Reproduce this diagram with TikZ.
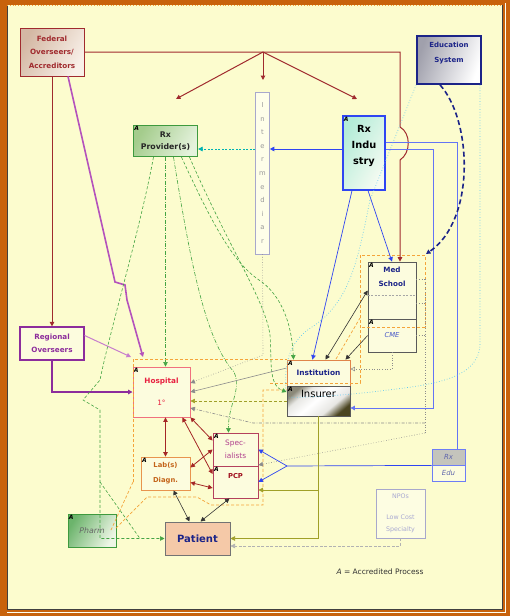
\documentclass[tikz,border=0pt]{standalone}
\usepackage{fontspec}
\setmainfont{DejaVu Sans}
\usepackage{tikz}
\usetikzlibrary{arrows.meta, calc}

\definecolor{framebrown}{HTML}{C8620C}
\definecolor{paper}{HTML}{FCFCCE}
\definecolor{boxfill}{HTML}{FCFCDE}
\definecolor{fedred}{HTML}{A02A2E}
\definecolor{fedtan}{HTML}{D4B8A4}
\definecolor{fedlight}{HTML}{F8F0E8}
\definecolor{navy}{HTML}{1C2488}
\definecolor{edugray}{HTML}{A0A0AC}
\definecolor{provgreen}{HTML}{3E9A3E}
\definecolor{provdark}{HTML}{A4CC8C}
\definecolor{provlight}{HTML}{E4F2DC}
\definecolor{indblue}{HTML}{2F45F2}
\definecolor{indcyan}{HTML}{B4ECD8}
\definecolor{indlight}{HTML}{F6FBF2}
\definecolor{lilac}{HTML}{A8A8CC}
\definecolor{medgray}{HTML}{5A5A5A}
\definecolor{cmeblue}{HTML}{4656C8}
\definecolor{instorange}{HTML}{E0844A}
\definecolor{insdark}{HTML}{4A4420}
\definecolor{insgray}{HTML}{8A8878}
\definecolor{regpurple}{HTML}{8C2C9C}
\definecolor{magline}{HTML}{B452BC}
\definecolor{hosppink}{HTML}{F0707E}
\definecolor{hospred}{HTML}{E82040}
\definecolor{laborange}{HTML}{E8944E}
\definecolor{labtext}{HTML}{C4641A}
\definecolor{specrose}{HTML}{B4405E}
\definecolor{spectext}{HTML}{B0408E}
\definecolor{pcptext}{HTML}{A0101E}
\definecolor{pharmdark}{HTML}{6CB46C}
\definecolor{pharmlight}{HTML}{EEF6E6}
\definecolor{patpeach}{HTML}{F5C9A8}
\definecolor{rxedugray}{HTML}{C4C4BC}
\definecolor{npotext}{HTML}{A8A8D2}
\definecolor{olivel}{HTML}{A0A028}
\definecolor{halo}{HTML}{F4A43A}
\definecolor{cyanl}{HTML}{5EC8F2}
\definecolor{grayl}{HTML}{8C8C8C}
\definecolor{rxgreen}{HTML}{44A444}
\definecolor{reddbl}{HTML}{A42626}

\pgfdeclareverticalshading{insshade}{100bp}{color(0bp)=(insdark); color(25bp)=(insdark);
  color(36bp)=(white!80!insgray); color(52bp)=(white); color(66bp)=(white!80!insgray);
  color(75bp)=(insgray); color(100bp)=(insgray)}

\newcommand{\fsz}[2]{\fontsize{#1}{#2}\selectfont}
\newcommand{\accmark}[1]{\node[acctag] (#1-a) at (#1.north west) {A};}

\begin{document}
\begin{tikzpicture}[x=1pt, y=-1pt,
  every node/.style={font=\fsz{7}{13}},
  box/.style={rectangle, draw=#1, line width=0.8pt, align=center, inner sep=1pt},
  acctag/.style={anchor=north west, inner sep=1.2pt, text=black, font=\fsz{6}{6}\bfseries\itshape},
  arrtip/.style={-{Triangle[length=4.5pt, width=4.5pt]}},
  dblarr/.style={{Triangle[length=4.5pt, width=4.5pt]}-{Triangle[length=4.5pt, width=4.5pt]}},
  fedline/.style={draw=fedred, line width=1pt, arrtip},
  magarr/.style={draw=magline, line width=1.6pt, arrtip},
  regarr/.style={draw=regpurple, line width=1.3pt, arrtip},
  regthin/.style={draw=magline!75, line width=1pt, arrtip},
  grn/.style={draw=rxgreen, line width=0.6pt, dash pattern=on 3pt off 2pt, arrtip},
  grndd/.style={grn, dash pattern=on 4pt off 1.5pt on 0.8pt off 1.5pt},
  bluearr/.style={draw=indblue, line width=0.7pt, arrtip},
  tealdash/.style={draw=teal!60!cyan, line width=0.6pt, dash pattern=on 2pt off 1.5pt, arrtip},
  graydot/.style={draw=grayl, line width=0.6pt, dotted},
  graydd/.style={draw=grayl, line width=0.6pt, dash pattern=on 3pt off 1.5pt on 0.8pt off 1.5pt},
  graysol/.style={draw=grayl, line width=0.6pt},
  oliveline/.style={draw=olivel, line width=0.7pt},
  cyandot/.style={draw=cyanl, line width=0.7pt, dotted},
  haloline/.style={draw=halo, line width=0.7pt, dash pattern=on 3pt off 2pt},
  redpair/.style={draw=reddbl, line width=0.8pt, dblarr},
  blkpair/.style={draw=black!80, line width=0.6pt, dblarr}
]
\useasboundingbox (0,0) rectangle (510,616);
% frame and paper
\fill[framebrown] (0,0) rectangle (510,616);
\fill[paper] (7,5) rectangle (502,609);
\draw[white!70!paper, line width=0.8pt] (7,612) -- (505,612) -- (505,3);
\draw[black!75, line width=0.8pt] (7,5) -- (7,609) -- (502,609) -- (502,5);
\draw[halo, dotted, line width=0.8pt] (7,5) -- (502,5);

% boxes
\node[box=fedred, minimum width=64pt, minimum height=48pt, left color=fedtan, right color=fedlight, shading angle=60,
  text=fedred, font=\fsz{7.2}{13.5}\bfseries] (fed) at (52,52) {Federal\\Overseers/\\Accreditors};
\node[box=navy, line width=1.8pt, minimum width=64pt, minimum height=48pt, left color=edugray, right color=white, shading angle=70,
  text=navy, font=\fsz{7}{15}\bfseries] (edu) at (449,60) {Education\\System\\{}};
\node[box=provgreen, line width=1.2pt, minimum width=64pt, minimum height=31pt, left color=provdark, right color=provlight, shading angle=60,
  text=black!85, font=\fsz{7.8}{12}\bfseries] (rxprov) at (165.5,141) {Rx\\Provider(s)};
\node[box=lilac, line width=0.6pt, fill=white!55!paper, minimum width=14pt, minimum height=162pt,
  text=black!40, font=\fsz{6.8}{13.6}] (inter) at (262.5,173) {I\\n\\t\\e\\r\\m\\e\\d\\i\\a\\r};
\node[box=indblue, line width=1.2pt, minimum width=42pt, minimum height=74pt, left color=indcyan, right color=indlight, shading angle=60,
  text=black, font=\fsz{9.8}{16}\bfseries] (rxind) at (364,153) {Rx\\Indu\\stry\\{}};
\node[box=medgray, line width=0.7pt, fill=boxfill, minimum width=48pt, minimum height=57pt,
  text=navy, font=\fsz{7.2}{14}\bfseries] (med) at (392,290.5) {Med\\School\\[14pt]{}};
\node[box=medgray, line width=0.7pt, fill=boxfill, minimum width=48pt, minimum height=33pt,
  text=cmeblue, font=\fsz{6.8}{12}\itshape] (cme) at (392,335.5) {CME};
\node[box=instorange, line width=0.8pt, fill=boxfill, minimum width=63pt, minimum height=26pt,
  text=navy, font=\fsz{7.4}{12}\bfseries] (inst) at (318.5,373) {Institution};
\node[box=medgray, line width=0.8pt, shading=insshade, shading angle=40,
  minimum width=63pt, minimum height=30pt, text=black, font=\fsz{10}{12}] (insr) at (318.5,401) {Insurer\\[3pt]{}};
\node[box=regpurple, line width=1.2pt, fill=boxfill, minimum width=64pt, minimum height=33pt,
  text=regpurple, font=\fsz{7.2}{13}\bfseries] (reg) at (52,343.5) {Regional\\Overseers};
\node[box=hosppink, line width=0.9pt, fill=boxfill, minimum width=57pt, minimum height=50pt,
  text=hospred, font=\fsz{7.3}{13}] (hosp) at (161.5,392) {\textbf{Hospital}\\[9pt]1°};
\node[box=laborange, line width=0.8pt, fill=boxfill, minimum width=49pt, minimum height=33pt,
  text=labtext, font=\fsz{6.8}{15}\bfseries] (lab) at (165.5,473.5) {Lab(s)\\Diagn.};
\node[box=specrose, line width=0.8pt, fill=boxfill, minimum width=45pt, minimum height=33pt,
  text=spectext, font=\fsz{7.4}{13}] (spec) at (235.5,449.5) {Spec-\\ialists};
\node[box=specrose, line width=0.8pt, fill=boxfill, minimum width=45pt, minimum height=32pt,
  text=pcptext, font=\fsz{6.8}{13}\bfseries] (pcp) at (235.5,482) {PCP\\{}};
\node[box=provgreen, line width=0.9pt, left color=pharmdark, right color=pharmlight, shading angle=60, minimum width=48pt, minimum height=33pt,
  text=black!60, font=\fsz{7.8}{12}\itshape] (pharm) at (92,530.5) {Pharm};
\node[box=black!55, line width=1pt, fill=patpeach, minimum width=65pt, minimum height=33pt,
  text=navy, font=\fsz{10}{12}\bfseries] (pat) at (197.5,538.5) {Patient};
\node[box=indblue!70, line width=0.8pt, fill=rxedugray, minimum width=33pt, minimum height=16pt,
  text=navy!70, font=\fsz{7}{10}\itshape] (rxedu) at (448.5,457) {Rx};
\node[box=indblue!70, line width=0.8pt, fill=boxfill, minimum width=33pt, minimum height=16pt,
  text=navy!70, font=\fsz{7}{10}\itshape] (edub) at (448.5,473) {Edu};
\node[box=lilac, line width=0.8pt, fill=white!40!paper, minimum width=49pt, minimum height=49pt,
  text=npotext, font=\fsz{6.3}{12}] (npo) at (400.5,513.5) {NPOs\\[9pt]Low Cost\\Specialty};
\node[text=black!80, font=\fsz{7.5}{10}] (legend) at (380,572) {\textit{A} = Accredited Process};

\draw[gray!70, line width=0.5pt, dash pattern=on 2pt off 1.5pt] ([yshift=-4.5pt]med.west) -- ([yshift=-4.5pt]med.east);

\accmark{rxprov} \accmark{rxind} \accmark{med} \accmark{cme} \accmark{inst} \accmark{insr}
\accmark{hosp} \accmark{lab} \accmark{spec} \accmark{pcp} \accmark{pharm}

% accreditation halos
\draw[haloline] (133,482) -- (133,359) -- (287,359);
\draw[haloline] (133,482) -- (111,530);
\draw[haloline] (116,528) -- (147,497) -- (197,497) -- (211,505) -- (263,505) -- (263,390) -- (287,390);
\draw[haloline] (270,383) -- (360,383) -- (360,255) -- (425,255) -- (425,327) -- (360,327);
\draw[haloline] (336,359) -- (360,318);

% federal and regional oversight
\coordinate (fedc) at (400,52);
\coordinate (fedhub) at (263,52);
\coordinate (fedtipL) at (176,99);
\coordinate (fedtipM) at (263,80);
\coordinate (fedtipR) at (357,99);
\draw[fedline] (fed.east) -- (fedc) -- (400,127) .. controls (411,133) and (411,153) .. (400,160) -- (fedc |- med.north);
\draw[fedline] (fedhub) -- (fedtipL);
\draw[fedline] (fedhub) -- (fedtipM);
\draw[fedline] (fedhub) -- (fedtipR);
\draw[fedline] (fed.south) -- (reg.north);
\coordinate (magtip) at (143,357);
\draw[magarr] ([xshift=16pt]fed.south) -- (115,282) -- (125,285) -- (127,300) -- (magtip);
\coordinate (regtip) at (131,357);
\draw[regthin] ([yshift=8pt]reg.east) -- (regtip);
\draw[regarr] (reg.south) |- (hosp.west);

% Rx providers
\draw[grn] ([xshift=-12pt]rxprov.south) .. controls (140,230) and (110,330) .. (100,380) -- (83,400) -- (100,410) |- (pat.west);
\coordinate (gsplit) at (100,482);
\draw[grn, -] (gsplit) -- (140,538.5);
\draw[grndd] (rxprov.south) -- (rxprov.south |- hosp.north);
\draw[grndd] ([xshift=8pt]rxprov.south) .. controls (190,260) and (205,340) .. (234,372) .. controls (242,390) and (228,405) .. ([xshift=-7pt]spec.north);
\draw[grn] ([xshift=16pt]rxprov.south) .. controls (215,230) and (235,265) .. (262,282) .. controls (285,300) and (292,330) .. ([xshift=-25pt]inst.north);
\draw[grn] ([xshift=24pt]rxprov.south) .. controls (230,250) and (265,300) .. (270,335) .. controls (272,360) and (268,385) .. ([yshift=9pt]insr.west);

% intermediary
\draw[bluearr] ([yshift=4pt]rxind.west) -- ([yshift=4pt]rxind.west -| inter.east);
\draw[tealdash] ([yshift=24pt]inter.west) -- ([yshift=24pt]inter.west -| rxprov.east);
\draw[graydot, arrtip] (inter.south) -- (263,355) -- ([yshift=9pt]hosp.east);
\draw[graysol, arrtip] ([yshift=5pt]inst.west) -- (hosp.east);
\draw[oliveline, dash pattern=on 3pt off 2pt, arrtip] (insr.west) -- (insr.west -| hosp.east);

% medical school and CME
\coordinate (gvtop) at (425,279);
\coordinate (gvmid) at (425,423);
\coordinate (gvbot) at (425,433);
\draw[graydot] ([yshift=11.5pt]med.east) -- (gvtop);
\draw[graydot] ([yshift=-12.5pt]med.east) -- +(9,0);
\draw[graydot] (cme.east) -- +(9,0);
\draw[graydot] (gvtop) -- (gvbot);
\draw[graydd, arrtip] (gvmid) -- (253,423) -- ([yshift=-16pt]hosp.east);
\draw[graydot, arrtip] (gvbot) -- ([yshift=17pt]pcp.east);
\draw[graydot, -{Triangle[open, length=4.5pt, width=4.5pt]}] (cme.south) |- ([yshift=4pt]inst.east);
\draw[blkpair] (med.west) -- ([xshift=7pt]inst.north);
\draw[draw=black!80, line width=0.6pt, arrtip] (cme.west) -- ([xshift=27pt]inst.north);

% Rx industry
\draw[bluearr] ([xshift=-12pt]rxind.south) -- ([xshift=-6pt]inst.north);
\draw[bluearr] ([xshift=4pt]rxind.south) -- (med.north);
\draw[draw=indblue!75, line width=0.8pt] ([yshift=11pt]rxind.east) -| ([xshift=8.5pt]rxedu.north);
\draw[draw=indblue!75, line width=0.8pt, arrtip] ([yshift=4pt]rxind.east) -- (433,149) |- ([yshift=-7pt]insr.east);
\coordinate (fork) at (287,466);
\draw[bluearr, -] (rxedu.south west) -- (fork);
\draw[bluearr] (fork) -- (spec.east);
\draw[bluearr] (fork) -- (pcp.east);

% insurer and NPOs to care
\draw[oliveline, arrtip] (insr.south) |- (pat.east);
\draw[oliveline, arrtip] (318.5,490) -- ([yshift=-8pt]pcp.east);
\draw[draw=gray!60, line width=0.6pt, dash pattern=on 3pt off 1.5pt, arrtip] (npo.south) |- ([yshift=-7.5pt]pat.east);

% care team
\draw[redpair] (hosp.south -| lab.north) -- (lab.north);
\draw[redpair] (hosp.south east) -- ([yshift=9pt]spec.west);
\draw[redpair] ([xshift=-8pt]hosp.south east) -- ([yshift=8pt]pcp.west);
\draw[redpair] ([yshift=6pt]lab.east) -- (spec.west);
\draw[redpair] ([yshift=-9pt]lab.east) -- ([yshift=-6pt]pcp.west);
\draw[blkpair] ([xshift=8pt]lab.south) -- ([xshift=-8pt]pat.north);
\draw[blkpair] ([xshift=-6pt]pcp.south) -- ([xshift=3pt]pat.north);

% education system
\coordinate (medhalo) at (426,254);
\draw[draw=navy, line width=1.6pt, dash pattern=on 5pt off 3pt, arrtip] ([xshift=-9pt]edu.south) .. controls (472,120) and (476,220) .. (medhalo);
\draw[cyandot] (edu.south west) -- (370,200) .. controls (358,260) and (350,300) .. (315,325) .. controls (290,340) and (284,360) .. (286,392);
\draw[cyandot] ([xshift=-2pt]edu.south east) -- (480,345) .. controls (478,380) and (430,385) .. (380,391) .. controls (340,396) and (300,398) .. (287,397);
\end{tikzpicture}
\end{document}
